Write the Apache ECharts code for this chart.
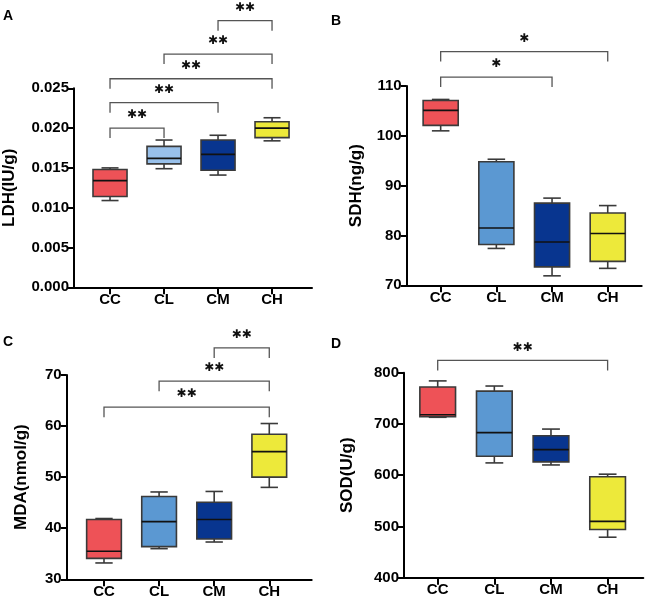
<!DOCTYPE html>
<html>
<head>
<meta charset="utf-8">
<script src="https://cdn.jsdelivr.net/npm/echarts@6/dist/echarts.min.js"></script>
<style>html,body{margin:0;padding:0;background:#fff;}#c{width:649px;height:607px;}</style>
</head>
<body>
<div id="c"></div>
<script>
// ---- data ----
const categories = ['CC', 'CL', 'CM', 'CH'];
// each group: [min, Q1, median, Q3, max]
const ldhValues = [
  [0.0109, 0.0114, 0.0134, 0.0148, 0.0150],
  [0.0149, 0.0155, 0.0162, 0.0177, 0.0185],
  [0.0141, 0.0147, 0.0167, 0.0185, 0.0191],
  [0.0184, 0.0188, 0.0200, 0.0208, 0.0213]
];
const sdhValues = [
  [101.0, 102.1, 105.1, 107.1, 107.3],
  [77.4, 78.2, 81.5, 94.8, 95.3],
  [71.9, 73.7, 78.7, 86.5, 87.5],
  [73.4, 74.8, 80.4, 84.5, 86.0]
];
const mdaValues = [
  [33.2, 34.1, 35.5, 41.7, 41.9],
  [36.0, 36.4, 41.3, 46.2, 47.1],
  [37.3, 37.9, 41.7, 45.1, 47.2],
  [48.0, 50.0, 55.0, 58.4, 60.5]
];
const sodValues = [
  [713, 714, 718, 772, 784],
  [624, 637, 683, 764, 774],
  [620, 626, 650, 677, 690],
  [479, 494, 510, 597, 602]
];
// significance brackets: [fromIndex, toIndex, height (data units), label]
const ldhSig = [[0, 1, 0.0200, '**'], [0, 2, 0.0232, '**'], [0, 3, 0.0262, '**'], [1, 3, 0.0293, '**'], [2, 3, 0.0335, '**']];
const sdhSig = [[0, 2, 111.8, '*'], [0, 3, 116.9, '*']];
const mdaSig = [[0, 3, 63.7, '**'], [1, 3, 68.8, '**'], [2, 3, 75.3, '**']];
const sodSig = [[0, 3, 824, '**']];
const yTicksLDH = {min: 0, max: 0.025, interval: 0.005};
const yTicksSDH = {min: 70, max: 110, interval: 10};
const yTicksMDA = {min: 30, max: 70, interval: 10};
const yTicksSOD = {min: 400, max: 800, interval: 100};

// ---- styling ----
const FONT = 'Liberation Sans, Arial, Helvetica, sans-serif';
const RED = '#ee5257', LBLUE_A = '#98c0ea', LBLUE = '#5b98d2', DBLUE = '#08358f', YELLOW = '#ede93a';

const panels = [
  {name: 'LDH(IU/g)', vals: ldhValues, sig: ldhSig, ticks: yTicksLDH, colors: [RED, LBLUE_A, DBLUE, YELLOW],
   grid: {left: 74, right: 337, top: 88.3, bottom: 319.7}, xr: [-0.667, 3.74], nameGap: 56, fmt: v => v.toFixed(3)},
  {name: 'SDH(ng/g)', vals: sdhValues, sig: sdhSig, ticks: yTicksSDH, colors: [RED, LBLUE, DBLUE, YELLOW],
   grid: {left: 406.7, right: 7.3, top: 86, bottom: 321.7}, xr: [-0.61, 3.61], nameGap: 42, fmt: v => String(v)},
  {name: 'MDA(nmol/g)', vals: mdaValues, sig: mdaSig, ticks: yTicksMDA, colors: [RED, LBLUE, DBLUE, YELLOW],
   grid: {left: 66.7, right: 337.3, top: 375, bottom: 27.7}, xr: [-0.677, 3.77], nameGap: 37, fmt: v => String(v)},
  {name: 'SOD(U/g)', vals: sodValues, sig: sodSig, ticks: yTicksSOD, colors: [RED, LBLUE, DBLUE, YELLOW],
   grid: {left: 404, right: 5.7, top: 372.7, bottom: 29.3}, xr: [-0.595, 3.63], nameGap: 48, fmt: v => String(v)}
];

const grids = [], xAxes = [], yAxes = [], series = [];
panels.forEach((p, k) => {
  grids.push(p.grid);
  xAxes.push({
    type: 'value', gridIndex: k, min: p.xr[0], max: p.xr[1],
    axisLine: {show: true, onZero: false, lineStyle: {color: '#000', width: 2}},
    axisTick: {show: true, length: 7, lineStyle: {color: '#000', width: 2}, customValues: [0, 1, 2, 3]},
    axisLabel: {customValues: [0, 1, 2, 3], formatter: v => categories[Math.round(v)], color: '#000',
      fontFamily: FONT, fontWeight: 'bold', fontSize: 15, margin: 5},
    splitLine: {show: false}
  });
  yAxes.push({
    type: 'value', gridIndex: k, min: p.ticks.min, max: p.ticks.max, interval: p.ticks.interval,
    name: p.name, nameLocation: 'middle', nameGap: p.nameGap,
    nameTextStyle: {fontFamily: FONT, fontWeight: 'bold', fontSize: 17, color: '#000'},
    axisLine: {show: true, onZero: false, lineStyle: {color: '#000', width: 2}},
    axisTick: {show: true, length: 6, lineStyle: {color: '#000', width: 2}},
    axisLabel: {formatter: p.fmt, color: '#000', fontFamily: FONT, fontWeight: 'bold', fontSize: 15, margin: 5},
    splitLine: {show: false}
  });
  const colors = p.colors;
  series.push({
    type: 'custom', xAxisIndex: k, yAxisIndex: k, clip: false,
    data: categories.map((c, i) => [i].concat(p.vals[i])),
    encode: {x: 0, y: [1, 2, 3, 4, 5]},
    renderItem: function (params, api) {
      const x = api.value(0);
      const pMin = api.coord([x, api.value(1)]);
      const pQ1 = api.coord([x, api.value(2)]);
      const pMed = api.coord([x, api.value(3)]);
      const pQ3 = api.coord([x, api.value(4)]);
      const pMax = api.coord([x, api.value(5)]);
      const cx = pMed[0];
      const w = api.size([0.63, 0])[0];
      const cap = w / 2;
      const wl = {stroke: '#3a3a3a', lineWidth: 1.6};
      return {type: 'group', children: [
        {type: 'line', shape: {x1: cx, y1: pMax[1], x2: cx, y2: pQ3[1]}, style: wl},
        {type: 'line', shape: {x1: cx - cap / 2, y1: pMax[1], x2: cx + cap / 2, y2: pMax[1]}, style: wl},
        {type: 'line', shape: {x1: cx, y1: pMin[1], x2: cx, y2: pQ1[1]}, style: wl},
        {type: 'line', shape: {x1: cx - cap / 2, y1: pMin[1], x2: cx + cap / 2, y2: pMin[1]}, style: wl},
        {type: 'rect', shape: {x: cx - w / 2, y: pQ3[1], width: w, height: pQ1[1] - pQ3[1]},
          style: {fill: colors[params.dataIndex], stroke: '#3a3a3a', lineWidth: 1.6}},
        {type: 'line', shape: {x1: cx - w / 2, y1: pMed[1], x2: cx + w / 2, y2: pMed[1]}, style: {stroke: '#111', lineWidth: 1.6}}
      ]};
    }
  });
  const sig = p.sig;
  series.push({
    type: 'custom', xAxisIndex: k, yAxisIndex: k, clip: false,
    data: sig.map(s => [s[0], s[1], s[2]]),
    encode: {x: [0, 1], y: 2},
    renderItem: function (params, api) {
      const a = api.coord([api.value(0), api.value(2)]);
      const b = api.coord([api.value(1), api.value(2)]);
      const drop = 10;
      return {type: 'group', children: [
        {type: 'polyline', shape: {points: [[a[0], a[1] + drop], [a[0], a[1]], [b[0], b[1]], [b[0], b[1] + drop]]},
          style: {stroke: '#555', lineWidth: 1.3, fill: null}},
        {type: 'text', style: {text: sig[params.dataIndex][3].replace(/\*/g, '✱'), x: (a[0] + b[0]) / 2, y: a[1] - 13,
          align: 'center', verticalAlign: 'middle', fill: '#111', font: 'bold 12px DejaVu Sans'}}
      ]};
    }
  });
});

const letters = [['A', 3, 9], ['B', 331, 14], ['C', 3, 335], ['D', 331, 337]];
const chart = echarts.init(document.getElementById('c'), null, {renderer: 'canvas'});
chart.setOption({
  animation: false,
  backgroundColor: '#fff',
  grid: grids, xAxis: xAxes, yAxis: yAxes, series: series,
  graphic: letters.map(l => ({type: 'text', left: l[1], top: l[2],
    style: {text: l[0], font: 'bold 14px ' + FONT, fill: '#000'}}))
});
</script>
</body>
</html>
